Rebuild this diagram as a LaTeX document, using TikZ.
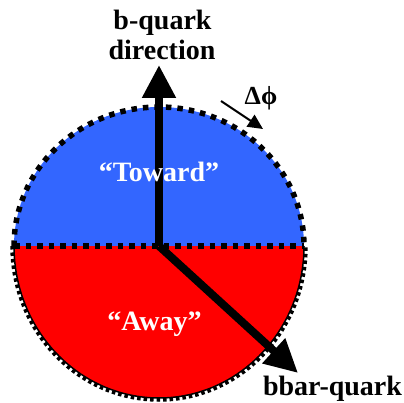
\documentclass[tikz,border=0pt]{standalone}
\usepackage{fontspec}
\setmainfont{Liberation Serif}
\usetikzlibrary{arrows.meta}
\definecolor{towardblue}{RGB}{51,102,255}
\definecolor{awayred}{RGB}{255,0,0}
\tikzset{
  dotline/.style={line width=5.5pt, dash pattern=on 5.5pt off 6pt},
  smalldots/.style={line width=3.5pt, dash pattern=on 3.5pt off 3pt},
  bigarrow/.style={line width=8pt, -{Triangle[length=33pt,width=32pt]}},
  smallarrow/.style={line width=2pt, -{Triangle[length=15pt,width=14pt]}},
  lab/.style={font=\fontsize{28}{30}\selectfont\bfseries, inner sep=0pt, anchor=base},
}
\begin{document}
\begin{tikzpicture}[x=1pt,y=1pt]
\useasboundingbox (0,0) rectangle (404,402);
\coordinate (o) at (159,156);
\coordinate (left) at (14,156);
\coordinate (right) at (304,156);
% fills
\fill[towardblue] (left) arc[start angle=180, end angle=0, x radius=145, y radius=139] -- cycle;
\fill[awayred] (left) arc[start angle=180, end angle=360, x radius=145, y radius=152] -- cycle;
% lower outline
\draw[line width=1.5pt] (left) arc[start angle=180, end angle=360, x radius=145, y radius=152];
\draw[smalldots] (12,156) arc[start angle=180, end angle=360, x radius=147, y radius=154];
% upper outline and dividing line
\draw[dotline] (left) arc[start angle=180, end angle=0, x radius=145, y radius=139];
\draw[dotline] (left) -- (right);
% arrows
\coordinate (btip) at (159,337);
\coordinate (bbtip) at (298,29);
\draw[bigarrow] (o) -- (btip);
\draw[bigarrow] (o) -- (bbtip);
\coordinate (dphs) at (221,301);
\coordinate (dphe) at (263,273);
\draw[smallarrow] (dphs) -- (dphe);
% labels
\node[lab] (bq1) at (162.5,372) {b-quark};
\node[lab] (bq2) at (162,342) {direction};
\node[lab, text=white] (toward) at (159,220) {“Toward”};
\node[lab, text=white] (away) at (154.5,72) {“Away”};
\node[lab] (bbar) at (332.5,7) {bbar-quark};
\node[inner sep=0pt, anchor=base, font=\fontsize{26}{28}\selectfont\bfseries] (dphi) at (261,297) {Δϕ};
\end{tikzpicture}
\end{document}
